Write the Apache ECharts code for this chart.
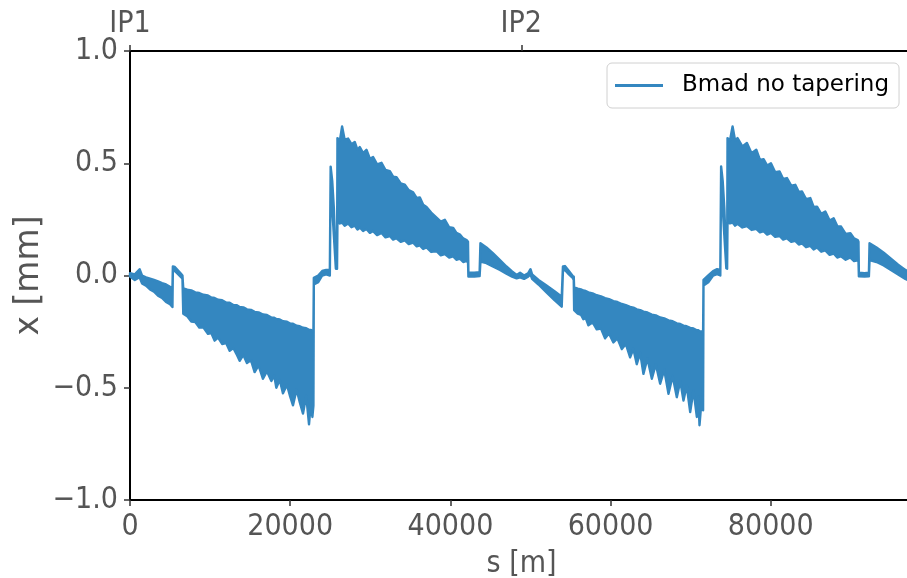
<!DOCTYPE html>
<html><head><meta charset="utf-8">
<script src="https://cdn.jsdelivr.net/npm/echarts@6.0.0/dist/echarts.min.js"></script>
<style>html,body{margin:0;padding:0;background:#fff}#chart{width:907px;height:578px}</style>
</head><body><div id="chart"></div>
<script>
// ring circumference [m] and interaction-point positions (top axis)
const ringLength = 97756;
const ipPositions = [0, 48850];
const ipNames = ['IP1', 'IP2'];
const xTickStep = 20000;
const seriesName = 'Bmad no tapering';

// closed-orbit envelope: [s (m), x upper (mm), x lower (mm)]
const orbitHalf1 = [
  [0, 0.010, -0.005], [600, 0.005, -0.020], [1200, 0.028, -0.008], [1500, 0.000, -0.035],
  [2000, -0.008, -0.045], [2500, -0.014, -0.062], [3000, -0.020, -0.072], [3500, -0.026, -0.090],
  [4000, -0.034, -0.100], [4500, -0.040, -0.118], [5000, -0.050, -0.128], [5300, -0.055, -0.140],
  [5350, 0.040, 0.022], [5600, 0.038, 0.020], [6000, 0.022, 0.006], [6400, 0.006, -0.008],
  [6550, 0.000, -0.015], [6650, -0.057, -0.170], [7150, -0.063, -0.182], [7650, -0.066, -0.205],
  [8150, -0.075, -0.207], [8650, -0.078, -0.232], [9150, -0.086, -0.231], [9730, -0.089, -0.260],
  [10150, -0.098, -0.256], [10560, -0.100, -0.290], [11000, -0.108, -0.277], [11500, -0.110, -0.305],
  [12000, -0.120, -0.301], [12440, -0.121, -0.335], [12900, -0.131, -0.323], [13300, -0.132, -0.350],
  [13690, -0.140, -0.380], [14150, -0.142, -0.354], [14600, -0.151, -0.390], [15100, -0.153, -0.377],
  [15560, -0.162, -0.430], [16050, -0.164, -0.400], [16600, -0.174, -0.460], [17100, -0.176, -0.426],
  [17650, -0.187, -0.470], [18000, -0.188, -0.445], [18270, -0.194, -0.500], [18700, -0.196, -0.465],
  [19100, -0.204, -0.525], [19600, -0.206, -0.487], [20000, -0.214, -0.540], [20350, -0.215, -0.578],
  [20800, -0.224, -0.508], [21200, -0.226, -0.565], [21600, -0.233, -0.615], [22000, -0.235, -0.535],
  [22350, -0.242, -0.663], [22600, -0.243, -0.560], [22770, -0.247, -0.630], [22900, -0.249, -0.580],
  [22950, -0.010, -0.040], [23500, 0.000, -0.030], [24000, 0.020, 0.000], [24500, 0.025, 0.005],
  [24950, 0.025, 0.000], [25050, 0.485, 0.420], [25250, 0.420, 0.300], [25450, 0.300, 0.180],
  [25700, 0.060, 0.030], [25850, 0.050, 0.030], [25900, 0.612, 0.240], [26200, 0.600, 0.232],
  [26480, 0.664, 0.236], [26800, 0.605, 0.222], [27230, 0.610, 0.232], [27650, 0.585, 0.215],
  [28060, 0.595, 0.222], [28400, 0.560, 0.205], [28690, 0.572, 0.214], [29100, 0.545, 0.198],
  [29520, 0.560, 0.207], [29950, 0.520, 0.190], [30350, 0.528, 0.198], [30850, 0.495, 0.180],
  [31400, 0.502, 0.190], [31900, 0.470, 0.170], [32440, 0.465, 0.176], [32850, 0.440, 0.160],
  [33270, 0.438, 0.166], [33800, 0.410, 0.150], [34310, 0.405, 0.156], [34800, 0.380, 0.140],
  [35350, 0.370, 0.146], [35800, 0.345, 0.130], [36190, 0.348, 0.134], [36600, 0.315, 0.118],
  [37020, 0.305, 0.125], [37600, 0.280, 0.105], [38270, 0.258, 0.108], [38800, 0.240, 0.090],
  [39310, 0.248, 0.095], [39850, 0.215, 0.080], [40350, 0.212, 0.085], [40750, 0.190, 0.070],
  [41190, 0.182, 0.075], [41600, 0.165, 0.060], [42020, 0.158, 0.065], [42200, 0.150, 0.058],
  [42250, 0.012, -0.005], [43000, 0.012, -0.005], [43650, 0.015, -0.003], [43750, 0.144, 0.062],
  [44500, 0.125, 0.055], [45300, 0.100, 0.040], [46190, 0.069, 0.025], [47000, 0.040, 0.008],
  [47700, 0.018, -0.005], [48270, 0.002, -0.013], [48700, 0.012, -0.008]
];
const orbitHalf2 = [
  [49200, 0.000, -0.015], [49700, 0.010, -0.005], [50000, 0.028, 0.005], [50200, 0.005, -0.015],
  [51000, -0.020, -0.040], [52000, -0.045, -0.075], [53000, -0.070, -0.110], [53900, -0.094, -0.139],
  [54050, 0.040, 0.020], [54300, 0.042, 0.025], [54800, 0.020, 0.005], [55300, -0.003, -0.012],
  [55400, -0.005, -0.020], [55450, -0.053, -0.154], [55900, -0.059, -0.170], [56300, -0.062, -0.175],
  [56600, -0.067, -0.195], [56900, -0.069, -0.190], [57230, -0.075, -0.222], [57750, -0.080, -0.208],
  [58270, -0.088, -0.240], [58800, -0.093, -0.236], [59310, -0.101, -0.280], [59800, -0.105, -0.258],
  [60350, -0.114, -0.298], [60850, -0.118, -0.280], [61400, -0.127, -0.328], [61900, -0.132, -0.305],
  [62440, -0.140, -0.365], [62850, -0.143, -0.327], [63270, -0.151, -0.395], [63700, -0.154, -0.345],
  [64100, -0.161, -0.438], [64600, -0.165, -0.370], [65150, -0.174, -0.460], [65650, -0.178, -0.395],
  [66190, -0.187, -0.482], [66700, -0.191, -0.420], [67230, -0.200, -0.527], [67750, -0.204, -0.448],
  [68270, -0.213, -0.542], [68700, -0.216, -0.470], [69100, -0.223, -0.557], [69500, -0.226, -0.490],
  [69940, -0.233, -0.608], [70350, -0.236, -0.510], [70770, -0.244, -0.630], [70950, -0.244, -0.540],
  [71100, -0.248, -0.667], [71350, -0.249, -0.560], [71550, -0.253, -0.600], [71600, -0.020, -0.045],
  [72200, 0.000, -0.030], [72800, 0.020, 0.000], [73300, 0.028, 0.006], [73700, 0.025, 0.000],
  [73800, 0.486, 0.420], [74000, 0.420, 0.300], [74200, 0.300, 0.180], [74450, 0.060, 0.032],
  [74550, 0.050, 0.030], [74600, 0.612, 0.240], [74900, 0.600, 0.232], [75230, 0.664, 0.236],
  [75550, 0.600, 0.222], [75850, 0.612, 0.230], [76450, 0.575, 0.214], [77020, 0.590, 0.220],
  [77600, 0.545, 0.203], [78190, 0.560, 0.208], [78650, 0.515, 0.192], [79100, 0.518, 0.198],
  [79550, 0.490, 0.182], [80020, 0.500, 0.190], [80550, 0.460, 0.172], [81100, 0.463, 0.176],
  [81550, 0.430, 0.160], [82020, 0.434, 0.166], [82550, 0.400, 0.150], [83060, 0.404, 0.154],
  [83500, 0.372, 0.138], [83900, 0.374, 0.143], [84400, 0.340, 0.126], [84940, 0.345, 0.132],
  [85350, 0.305, 0.116], [85770, 0.307, 0.125], [86300, 0.275, 0.106], [86810, 0.285, 0.112],
  [87350, 0.245, 0.092], [87850, 0.255, 0.098], [88300, 0.220, 0.080], [88770, 0.218, 0.086],
  [89350, 0.185, 0.070], [89940, 0.188, 0.080], [90400, 0.165, 0.064], [90850, 0.158, 0.068],
  [90950, 0.150, 0.062], [91000, 0.012, -0.004], [91700, 0.010, -0.005], [92250, 0.012, -0.004],
  [92330, 0.144, 0.069], [93200, 0.125, 0.060], [94100, 0.102, 0.045], [95000, 0.075, 0.025],
  [95900, 0.048, 0.005], [96800, 0.025, -0.015], [97700, 0.005, -0.030]
];

const rows = orbitHalf1.concat(orbitHalf2);

const lineColor = '#3487c0';
const tickFont = "'DejaVu Sans Condensed', 'DejaVu Sans', sans-serif";
const labelColor = '#555555';

const chart = echarts.init(document.getElementById('chart'), null, {renderer: 'canvas'});
chart.setOption({
  animation: false,
  backgroundColor: '#ffffff',
  grid: {left: 130, right: -6, top: 51, bottom: 78, containLabel: false, outerBoundsMode: 'none'},
  legend: {
    data: [{name: seriesName, icon: 'rect'}],
    left: 607, top: 63,
    itemWidth: 48, itemHeight: 3,
    padding: [9, 10, 9, 8],
    backgroundColor: '#ffffff',
    borderColor: '#d0d0d0', borderWidth: 1, borderRadius: 5,
    selectedMode: false,
    textStyle: {fontSize: 23, fontFamily: 'DejaVu Sans', color: '#000', padding: [0, 0, 0, 14], lineHeight: 27}
  },
  xAxis: [
    {
      type: 'value', position: 'bottom', min: 0, max: ringLength, interval: xTickStep,
      axisLine: {show: true, onZero: false, lineStyle: {color: '#000', width: 2}},
      axisTick: {show: true, length: 6, lineStyle: {color: '#333', width: 1.5}},
      axisLabel: {fontSize: 30, fontFamily: tickFont, color: labelColor, margin: 12, showMaxLabel: false,
        formatter: v => (v % xTickStep === 0 ? String(v) : '')},
      splitLine: {show: false},
      name: 's [m]', nameLocation: 'middle', nameGap: 49, nameMoveOverlap: false,
      nameTextStyle: {fontSize: 30, fontFamily: tickFont, color: labelColor}
    },
    {
      type: 'value', position: 'top', min: 0, max: ringLength,
      axisLine: {show: true, onZero: false, lineStyle: {color: '#000', width: 2}},
      axisTick: {show: true, length: 6, customValues: ipPositions, lineStyle: {color: '#333', width: 1.5}},
      axisLabel: {show: true, customValues: ipPositions, fontSize: 30, fontFamily: tickFont, color: labelColor, margin: 12,
        formatter: v => { const k = ipPositions.indexOf(v); return k >= 0 ? ipNames[k] : ''; }},
      splitLine: {show: false}
    }
  ],
  yAxis: {
    type: 'value', min: -1, max: 1, interval: 0.5,
    axisLine: {show: true, onZero: false, lineStyle: {color: '#000', width: 2}},
    axisTick: {show: true, length: 6, lineStyle: {color: '#333', width: 1.5}},
    axisLabel: {fontSize: 30, fontFamily: tickFont, color: labelColor, margin: 12,
      formatter: v => (v < 0 ? '\u2212' : '') + Math.abs(v).toFixed(1)},
    splitLine: {show: false},
    name: 'x [mm]', nameLocation: 'middle', nameGap: 84, nameRotate: 90, nameMoveOverlap: false,
    nameTextStyle: {fontSize: 33, fontFamily: 'DejaVu Sans', color: labelColor}
  },
  series: [{
    type: 'custom', name: seriesName, xAxisIndex: 0, yAxisIndex: 0,
    data: rows,
    encode: {x: 0, y: [1, 2]},
    itemStyle: {color: lineColor},
    renderItem: function (params, api) {
      // one closed outline: upper envelope forward, lower envelope backward
      if (params.dataIndex !== 0) return null;
      const pts = [];
      for (let i = 0; i < rows.length; i++) pts.push(api.coord([rows[i][0], rows[i][1]]));
      for (let i = rows.length - 1; i >= 0; i--) pts.push(api.coord([rows[i][0], rows[i][2]]));
      return {
        type: 'polygon', silent: true,
        shape: {points: pts},
        style: {fill: lineColor, stroke: lineColor, lineWidth: 2.4, lineJoin: 'round'}
      };
    }
  }]
});
</script>
</body></html>
